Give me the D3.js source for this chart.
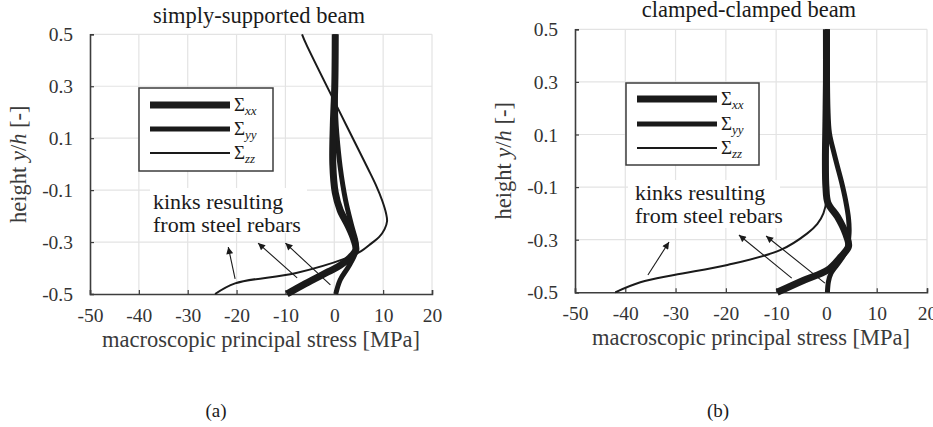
<!DOCTYPE html>
<html>
<head>
<meta charset="utf-8">
<script src="https://cdn.jsdelivr.net/npm/d3@7"></script>
<style>
  html, body { margin: 0; padding: 0; background: #fff; }
  svg { display: block; }
  svg text { font-family: "Liberation Serif", "DejaVu Serif", serif !important; }
</style>
</head>
<body>
<svg id="chart" width="933" height="427"></svg>
<script>
// ---------- data ----------
const xTicks = [-50, -40, -30, -20, -10, 0, 10, 20];
const xTickLabels = ["-50", "-40", "-30", "-20", "-10", "0", "10", "20"];
const yTicks = [-0.5, -0.3, -0.1, 0.1, 0.3, 0.5];
const yTickLabels = ["-0.5", "-0.3", "-0.1", "0.1", "0.3", "0.5"];
const seriesNames = ["xx", "yy", "zz"];
const panelTitles = ["simply-supported beam", "clamped-clamped beam"];
const panelTags = ["(a)", "(b)"];

// simply-supported beam: [stress MPa, height y/h]
const ssXX = [[0.2,0.5],[0.1,0.3],[-0.2,0.15],[-0.3,0.0],[0.2,-0.11],[1.2,-0.177],[2.9,-0.24],[4.0,-0.29],[4.4,-0.33],[3.2,-0.36],[1.2,-0.39],[-1.2,-0.414],[-5.9,-0.46],[-9.7,-0.5]];
const ssYY = [[0.2,0.5],[0.2,0.25],[0.3,0.18],[0.5,0.12],[1.2,-0.01],[2.3,-0.138],[3.6,-0.24],[4.5,-0.305],[4.3,-0.343],[2.9,-0.395],[1.2,-0.446],[0.3,-0.5]];
const ssZZ = [[-6.6,0.5],[-5.7,0.46],[6.7,-0.01],[8.5,-0.08],[9.8,-0.14],[10.6,-0.19],[10.8,-0.22],[10.3,-0.25],[9.2,-0.28],[7.6,-0.305],[5.5,-0.335],[2.3,-0.363],[-8,-0.42],[-20.3,-0.459],[-24.4,-0.5]];

// clamped-clamped beam
const ccXX = [[0.0,0.5],[0.0,0.3],[-0.1,0.15],[-0.2,0.0],[-0.1,-0.1],[0.3,-0.16],[2.2,-0.213],[3.8,-0.276],[4.4,-0.325],[2.8,-0.366],[0.2,-0.416],[-4.5,-0.454],[-9.8,-0.5]];
const ccYY = [[0.2,0.5],[0.3,0.2],[0.6,0.105],[1.5,0.03],[2.2,-0.022],[3.0,-0.08],[3.8,-0.149],[4.4,-0.22],[4.5,-0.276],[4.0,-0.339],[2.8,-0.378],[0.9,-0.428],[0.4,-0.46],[0.2,-0.5]];
const ccZZ = [[0.0,0.5],[0.0,0.3],[-0.1,0.15],[-0.1,0.0],[0.0,-0.1],[0.0,-0.15],[-0.6,-0.2],[-1.8,-0.24],[-3.8,-0.276],[-9.1,-0.339],[-19.7,-0.396],[-30.3,-0.434],[-37,-0.462],[-42,-0.5]];

// annotation arrows: [fromStress, fromHeight, toStress, toHeight]
const ssArrows = [[-20.3,-0.442,-21.7,-0.319],[-7.6,-0.438,-15.6,-0.304],[-0.8,-0.465,-10,-0.304]];
const ccArrows = [[-35.5,-0.434,-31.3,-0.309],[-6.9,-0.446,-17.4,-0.282],[-0.3,-0.465,-12.0,-0.286]];
const annotationLines = ["kinks resulting", "from steel rebars"];

// ---------- layout ----------
const panels = [
  { x0: 90, x1: 432, yTop: 34.3, yBot: 294, series: [ssXX, ssYY, ssZZ], arrows: ssArrows,
    title: panelTitles[0], tag: panelTags[0], titleY: 23, tagX: 216,
    legend: { x: 139, y: 88, w: 134, h: 83, lx0: 150, lx1: 230, ly: [105, 129, 153] },
    note: { rx: 150, ry: 188, rw: 157, rh: 45, tx: 153, ty: [209, 232] },
    ylabX: 26, tickY: 322, xlabY: 347 },
  { x0: 575, x1: 927, yTop: 29.3, yBot: 292.3, series: [ccXX, ccYY, ccZZ], arrows: ccArrows,
    title: panelTitles[1], tag: panelTags[1], titleY: 17, tagX: 718,
    legend: { x: 626, y: 83, w: 133, h: 82, lx0: 637, lx1: 717, ly: [99, 124, 148] },
    note: { rx: 628, ry: 180, rw: 152, rh: 48, tx: 635, ty: [200, 223] },
    ylabX: 511, tickY: 320, xlabY: 345 }
];
const widths = [7, 5, 2];
const ink = "#1a1a1a";
const axisCol = "#3d3d3d";
const gridCol = "#e3e3e3";

const svg = d3.select("#chart");
const defs = svg.append("defs");
defs.append("marker").attr("id", "ah").attr("viewBox", "0 0 10 10")
  .attr("refX", 10).attr("refY", 5).attr("markerWidth", 9).attr("markerHeight", 7)
  .attr("markerUnits", "userSpaceOnUse").attr("orient", "auto")
  .append("path").attr("d", "M0,0 L10,5 L0,10 z").attr("fill", ink);

panels.forEach((p) => {
  const x = d3.scaleLinear().domain([-50, 20]).range([p.x0, p.x1]);
  const y = d3.scaleLinear().domain([-0.5, 0.5]).range([p.yBot, p.yTop]);
  const g = svg.append("g");

  // grid
  g.append("g").selectAll("line").data(xTicks.slice(1)).join("line")
    .attr("x1", d => x(d)).attr("x2", d => x(d)).attr("y1", p.yTop).attr("y2", p.yBot)
    .attr("stroke", gridCol).attr("stroke-width", 1.2);
  g.append("g").selectAll("line").data(yTicks.slice(1)).join("line")
    .attr("y1", d => y(d)).attr("y2", d => y(d)).attr("x1", p.x0).attr("x2", p.x1)
    .attr("stroke", gridCol).attr("stroke-width", 1.2);

  // axes
  const xAxis = d3.axisBottom(x).tickValues(xTicks).tickSize(-4).tickPadding(0).tickFormat((d, i) => xTickLabels[i]);
  const yAxis = d3.axisLeft(y).tickValues(yTicks).tickSize(-4).tickPadding(0).tickFormat((d, i) => yTickLabels[i]);
  const gx = g.append("g").attr("transform", `translate(0,${p.yBot})`).call(xAxis);
  const gy = g.append("g").attr("transform", `translate(${p.x0},0)`).call(yAxis);
  [gx, gy].forEach(a => {
    a.attr("font-family", null).attr("font-size", null);
    a.select(".domain").attr("stroke", axisCol).attr("stroke-width", 1.6);
    a.selectAll(".tick line").attr("stroke", axisCol).attr("stroke-width", 1.2);
    a.selectAll("text").attr("fill", "#333").style("font-size", "19.5px");
  });
  gx.selectAll(".tick text").attr("y", p.tickY - p.yBot).attr("dy", null);
  gy.selectAll(".tick text").attr("x", -17).attr("dy", "0.34em");

  // annotation background
  g.append("rect").attr("x", p.note.rx).attr("y", p.note.ry).attr("width", p.note.rw).attr("height", p.note.rh)
    .attr("fill", "#fff");
  g.selectAll(".note").data(annotationLines).join("text")
    .attr("x", p.note.tx).attr("y", (d, i) => p.note.ty[i])
    .attr("fill", ink).style("font-size", "22px").text(d => d);

  // curves
  const line = d3.line().x(d => x(d[0])).y(d => y(d[1])).curve(d3.curveCatmullRom.alpha(0.5));
  [2, 1, 0].forEach(i => {
    g.append("path").datum(p.series[i]).attr("d", line)
      .attr("fill", "none").attr("stroke", ink).attr("stroke-width", widths[i])
      .attr("stroke-linejoin", "round");
  });

  // arrows
  g.selectAll(".arrow").data(p.arrows).join("line")
    .attr("x1", d => x(d[0])).attr("y1", d => y(d[1]))
    .attr("x2", d => x(d[2])).attr("y2", d => y(d[3]))
    .attr("stroke", ink).attr("stroke-width", 1.1).attr("marker-end", "url(#ah)");

  // legend
  const L = p.legend;
  g.append("rect").attr("x", L.x).attr("y", L.y).attr("width", L.w).attr("height", L.h)
    .attr("fill", "#fff").attr("stroke", axisCol).attr("stroke-width", 1.5);
  seriesNames.forEach((s, i) => {
    g.append("line").attr("x1", L.lx0).attr("x2", L.lx1).attr("y1", L.ly[i]).attr("y2", L.ly[i])
      .attr("stroke", ink).attr("stroke-width", widths[i]);
    const t = g.append("text").attr("x", L.lx1 + 4).attr("y", L.ly[i] + 6).attr("fill", ink)
      .style("font-size", "19px");
    t.append("tspan").text("Σ");
    t.append("tspan").attr("dy", 4).style("font-size", "13px").style("font-style", "italic").text(s);
  });

  // titles and labels
  g.append("text").attr("x", (p.x0 + p.x1) / 2 - 2).attr("y", p.titleY).attr("text-anchor", "middle")
    .attr("fill", ink).style("font-size", "22.5px").text(p.title);
  g.append("text").attr("x", (p.x0 + p.x1) / 2).attr("y", p.xlabY).attr("text-anchor", "middle")
    .attr("fill", "#3a3a3a").style("font-size", "22.5px").text("macroscopic principal stress [MPa]");
  const yl = g.append("text").attr("transform", `translate(${p.ylabX},${(p.yTop + p.yBot) / 2}) rotate(-90)`)
    .attr("text-anchor", "middle").attr("fill", "#3a3a3a").style("font-size", "22.5px");
  yl.append("tspan").text("height ");
  yl.append("tspan").style("font-style", "italic").text("y");
  yl.append("tspan").text("/");
  yl.append("tspan").style("font-style", "italic").text("h");
  yl.append("tspan").text(" [-]");
  g.append("text").attr("x", p.tagX).attr("y", 417).attr("text-anchor", "middle")
    .attr("fill", ink).style("font-size", "19px").text(p.tag);
});
</script>
</body>
</html>
